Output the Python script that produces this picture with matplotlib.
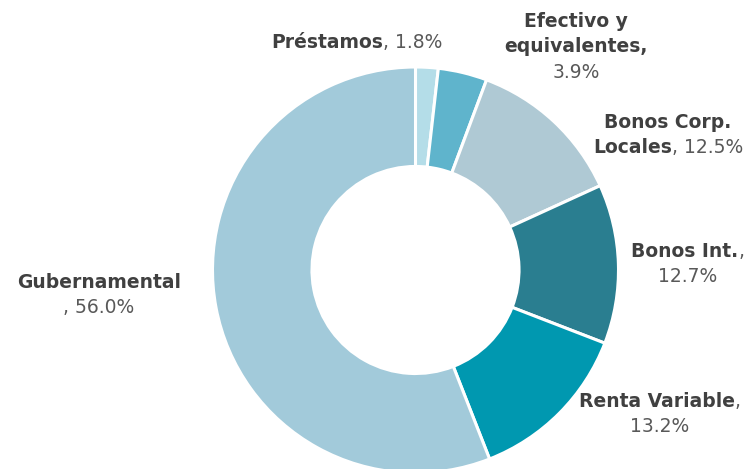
import matplotlib
matplotlib.use("Agg")
import matplotlib.pyplot as plt
from matplotlib.offsetbox import TextArea, HPacker, VPacker, AnnotationBbox

categories = ["Préstamos", "Efectivo y equivalentes", "Bonos Corp. Locales",
              "Bonos Int.", "Renta Variable", "Gubernamental"]
values = [1.8, 3.9, 12.5, 12.7, 13.2, 56.0]
colors = ["#B4DDE8", "#5FB4CC", "#AFC9D4", "#2A7E90", "#0098B0", "#A2CADA"]

# label lines: list of lines, each a list of (text, bold)
label_lines = [
    [[("Préstamos", True), (", 1.8%", False)]],
    [[("Efectivo y", True)], [("equivalentes,", True)], [("3.9%", False)]],
    [[("Bonos Corp.", True)], [("Locales", True), (", 12.5%", False)]],
    [[("Bonos Int.", True), (",", False)], [("12.7%", False)]],
    [[("Renta Variable", True), (",", False)], [("13.2%", False)]],
    [[("Gubernamental", True)], [(", 56.0%", False)]],
]
# label centre positions in pixels (x, y from top) - layout only
label_pos_px = [(357, 43), (576, 47), (668, 135), (688, 264), (660, 414), (99, 295)]

W, H = 750, 469
cx, cy = 415.5, 270
R = 203.0

fig = plt.figure(figsize=(7.5, 4.69), dpi=100)
ax = fig.add_axes([0, 0, 1, 1])

ax.pie(values, colors=colors, startangle=90, counterclock=False, radius=1.0,
       wedgeprops=dict(width=0.49, edgecolor="white", linewidth=2.2))
ax.set_aspect("auto")
ax.set_xlim(-cx / R, (W - cx) / R)
ax.set_ylim(-(H - cy) / R, cy / R)
ax.axis("off")

fam = ["DejaVu Sans"]
fs = 13.5
for lines, (px, py) in zip(label_lines, label_pos_px):
    rows = []
    for line in lines:
        parts = []
        for txt, bold in line:
            parts.append(TextArea(txt, textprops=dict(
                fontsize=fs, family=fam,
                fontweight="bold" if bold else "normal",
                color="#404040" if bold else "#595959")))
        rows.append(HPacker(children=parts, pad=0, sep=0, align="baseline"))
    box = VPacker(children=rows, pad=0, sep=5, align="center")
    x = (px - cx) / R
    y = (cy - py) / R
    ab = AnnotationBbox(box, (x, y), xycoords="data", frameon=False,
                        box_alignment=(0.5, 0.5), pad=0, annotation_clip=False)
    ax.add_artist(ab)

fig.savefig("out.png", dpi=100)
